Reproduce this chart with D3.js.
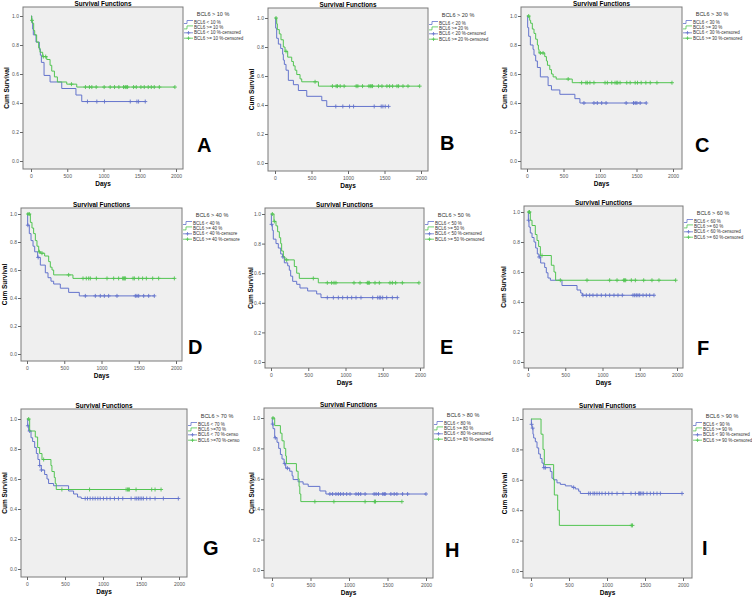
<!DOCTYPE html>
<html><head><meta charset="utf-8">
<script src="https://cdn.jsdelivr.net/npm/d3@7"></script>
<style>body{margin:0;background:#fff} svg{display:block;font-family:"Liberation Sans",Arial,sans-serif}</style>
</head><body><svg id="c" width="752" height="599"></svg>
<script>
const xTicks=[0,500,1000,1500,2000];
const yTicks=[0,0.2,0.4,0.6,0.8,1.0];
const letters=["A","B","C","D","E","F","G","H","I"];
const cutoffs=[10,20,30,40,50,60,70,80,90];
const legendTitles=cutoffs.map(c=>`BCL6 > ${c} %`);
const legendLabels=[
 ["BCL6 < 10 %","BCL6 >= 10 %","BCL6 < 10 %-censored","BCL6 >= 10 %-censored"],
 ["BCL6 < 20 %","BCL6 >= 20 %","BCL6 < 20 %-censored","BCL6 >= 20 %-censored"],
 ["BCL6 < 30 %","BCL6 >= 30 %","BCL6 < 30 %-censored","BCL6 >= 30 %-censored"],
 ["BCL6 < 40 %","BCL6 >= 40 %","BCL6 < 40 %-censore","BCL6 >= 40 %-censore"],
 ["BCL6 < 50 %","BCL6 >= 50 %","BCL6 < 50 %-censored","BCL6 >= 50 %-censored"],
 ["BCL6 < 60 %","BCL6 >= 60 %","BCL6 < 60 %-censored","BCL6 >= 60 %-censored"],
 ["BCL6 < 70 %","BCL6 >=70 %","BCL6 < 70 %-censo","BCL6 >=70 %-censo"],
 ["BCL6 < 80 %","BCL6 >= 80 %","BCL6 < 80 %-censored","BCL6 >= 80 %-censored"],
 ["BCL6 < 90 %","BCL6 >= 90 %","BCL6 < 90 %-censored","BCL6 >= 90 %-censored"]
];

// step data: [time (days), cumulative survival after event]; censored times
const A_low_steps=[[10,0.955],[23,0.91],[32,0.87],[69,0.82],[115,0.77],[129,0.73],[143,0.68],[180,0.59],[263,0.545],[424,0.50],[620,0.455],[700,0.41]];
const A_low_cens=[779,908,1014,1369,1461,1484,1576];
const A_high_steps=[[9,0.97],[18,0.95],[37,0.90],[51,0.87],[78,0.82],[106,0.78],[124,0.75],[161,0.72],[217,0.70],[263,0.66],[286,0.62],[323,0.58],[364,0.545],[493,0.53],[631,0.51]];
const A_high_cens=[14,170,203,558,751,806,839,899,1009,1092,1152,1212,1276,1299,1313,1332,1415,1452,1516,1562,1617,1659,1700,1770,1985];

const B_low_steps=[[9,0.93],[23,0.86],[46,0.82],[78,0.79],[105,0.75],[114,0.71],[128,0.68],[151,0.64],[183,0.57],[252,0.54],[320,0.50],[435,0.46],[641,0.43],[709,0.39]];
const B_low_cens=[833,929,1021,1076,1359,1455,1478,1510,1556];
const B_high_steps=[[23,0.96],[32,0.92],[59,0.89],[82,0.85],[114,0.80],[137,0.77],[174,0.73],[229,0.70],[252,0.67],[275,0.64],[298,0.61],[343,0.58],[366,0.56],[595,0.53]];
const B_high_cens=[14,151,549,787,838,856,893,947,1112,1135,1199,1286,1304,1318,1336,1419,1465,1533,1570,1611,1671,1693,1753,1822,1982];

const C_low_steps=[[9,0.92],[23,0.86],[46,0.80],[83,0.77],[96,0.73],[119,0.69],[142,0.645],[183,0.58],[289,0.52],[335,0.49],[450,0.46],[656,0.43],[725,0.40]];
const C_low_cens=[780,917,963,1023,1083,1358,1459,1482,1505,1550,1633];
const C_high_steps=[[37,0.97],[50,0.95],[73,0.91],[96,0.88],[119,0.84],[142,0.80],[156,0.77],[165,0.745],[243,0.72],[266,0.69],[280,0.66],[312,0.63],[335,0.60],[358,0.58],[400,0.565],[620,0.54]];
const C_high_cens=[23,183,220,564,748,807,826,862,917,1069,1101,1161,1206,1229,1243,1275,1367,1413,1482,1514,1564,1628,1688,1780,1986];

const D_low_steps=[[9,0.92],[31,0.86],[54,0.81],[81,0.77],[103,0.73],[143,0.69],[179,0.635],[246,0.58],[282,0.545],[322,0.52],[358,0.50],[447,0.47],[559,0.44],[702,0.415]];
const D_low_cens=[12,150,783,917,984,1038,1096,1208,1454,1476,1499,1566,1633,1709];
const D_high_steps=[[45,0.94],[67,0.90],[89,0.86],[112,0.81],[134,0.77],[157,0.73],[179,0.72],[237,0.70],[291,0.66],[313,0.62],[336,0.60],[358,0.565],[617,0.54]];
const D_high_cens=[13,31,166,201,559,752,796,828,850,931,1074,1163,1230,1284,1297,1311,1320,1423,1441,1499,1552,1602,1687,1767,1978];

const E_low_steps=[[5,0.93],[18,0.89],[31,0.83],[67,0.80],[98,0.77],[130,0.73],[157,0.71],[179,0.67],[224,0.65],[246,0.62],[264,0.58],[291,0.545],[345,0.525],[389,0.50],[492,0.48],[613,0.46],[671,0.435]];
const E_low_cens=[8,160,756,837,904,962,1025,1083,1141,1208,1365,1432,1454,1472,1499,1553,1629,1696];
const E_high_steps=[[40,0.95],[67,0.92],[89,0.88],[112,0.84],[130,0.80],[143,0.75],[166,0.71],[188,0.69],[313,0.645],[345,0.60],[380,0.565],[635,0.535]];
const E_high_cens=[18,45,210,568,756,814,846,872,1114,1195,1293,1306,1320,1396,1454,1597,1629,1673,1763,1986];

const F_low_steps=[[5,0.945],[13,0.90],[31,0.86],[54,0.83],[81,0.80],[103,0.76],[125,0.72],[148,0.70],[170,0.66],[224,0.63],[246,0.595],[268,0.56],[300,0.545],[456,0.51],[658,0.48],[707,0.46],[729,0.445]];
const F_low_cens=[8,150,738,783,828,872,926,984,1042,1096,1154,1208,1266,1409,1432,1454,1476,1499,1544,1588,1633,1691];
const F_high_steps=[[31,0.945],[54,0.91],[98,0.85],[121,0.81],[143,0.77],[166,0.71],[313,0.645],[349,0.60],[371,0.545]];
const F_high_cens=[13,20,188,434,792,1096,1195,1284,1297,1311,1387,1441,1553,1664,1758,1982];

const G_low_steps=[[9,0.955],[22,0.92],[53,0.875],[74,0.85],[101,0.81],[123,0.77],[144,0.73],[166,0.69],[188,0.66],[232,0.63],[263,0.60],[284,0.57],[350,0.555],[547,0.52],[613,0.50],[665,0.48],[713,0.47]];
const G_low_cens=[12,35,168,190,766,796,831,866,897,932,963,1006,1050,1094,1151,1203,1260,1370,1422,1444,1466,1488,1510,1532,1575,1619,1685,1794,1991];
const G_high_steps=[[35,0.92],[109,0.88],[140,0.81],[166,0.77],[197,0.73],[315,0.69],[328,0.65],[359,0.61],[372,0.57],[385,0.53]];
const G_high_cens=[22,219,459,823,1304,1322,1335,1348,1435,1641,1685,1764];

const H_low_steps=[[4,0.96],[13,0.93],[35,0.87],[65,0.84],[87,0.80],[109,0.76],[130,0.73],[157,0.70],[178,0.67],[230,0.65],[261,0.62],[274,0.595],[339,0.58],[404,0.565],[470,0.55],[622,0.52],[700,0.50]];
const H_low_cens=[10,43,165,200,752,787,830,861,891,926,970,1013,1091,1122,1152,1209,1326,1352,1383,1439,1457,1470,1544,1587,1622,1696,1761,2000];
const H_high_steps=[[35,0.95],[109,0.90],[130,0.85],[157,0.80],[178,0.75],[187,0.70],[317,0.65],[339,0.60],[352,0.55],[361,0.50],[374,0.45]];
const H_high_cens=[13,557,804,1209,1330,1344,1687];

const I_low_steps=[[5,0.965],[13,0.94],[26,0.90],[35,0.875],[57,0.85],[79,0.81],[101,0.77],[123,0.74],[145,0.71],[167,0.68],[254,0.655],[276,0.61],[298,0.60],[342,0.58],[386,0.57],[452,0.56],[539,0.55],[583,0.54],[627,0.525],[649,0.51]];
const I_low_cens=[8,22,170,189,561,759,781,816,838,868,899,934,978,1022,1066,1132,1211,1316,1373,1417,1430,1439,1461,1482,1526,1570,1614,1658,1702,1987];
const I_high_steps=[[132,0.90],[158,0.80],[175,0.70],[298,0.60],[307,0.50],[351,0.40],[373,0.30]];
const I_high_cens=[1320,1335];

const seriesData=[
 [A_low_steps,A_low_cens,A_high_steps,A_high_cens],
 [B_low_steps,B_low_cens,B_high_steps,B_high_cens],
 [C_low_steps,C_low_cens,C_high_steps,C_high_cens],
 [D_low_steps,D_low_cens,D_high_steps,D_high_cens],
 [E_low_steps,E_low_cens,E_high_steps,E_high_cens],
 [F_low_steps,F_low_cens,F_high_steps,F_high_cens],
 [G_low_steps,G_low_cens,G_high_steps,G_high_cens],
 [H_low_steps,H_low_cens,H_high_steps,H_high_cens],
 [I_low_steps,I_low_cens,I_high_steps,I_high_cens]
];

// layout (pixels)
const layout=[
 {l:23,t:7,r:183,b:169,x0:31,x1:176,y1:16,y0:161,lx:197,ly:152,cx:7},
 {l:268,t:8,r:428,b:171,x0:275,x1:421,y1:18,y0:163,lx:440,ly:150,cx:252},
 {l:521,t:7,r:682,b:169,x0:527,x1:673,y1:16,y0:161,lx:695,ly:152,cx:505},
 {l:21,t:208,r:182,b:361,x0:27,x1:176,y1:214,y0:354,lx:188,ly:354,cx:5},
 {l:265,t:208,r:424,b:368,x0:271,x1:420,y1:214,y0:362,lx:440,ly:354,cx:251},
 {l:524,t:206,r:683,b:368,x0:528,x1:677,y1:212,y0:362,lx:697,ly:355,cx:504},
 {l:21,t:409,r:187,b:577,x0:27,x1:179,y1:419,y0:569,lx:203,ly:555,cx:5},
 {l:264,t:408,r:433,b:578,x0:272,x1:426,y1:418,y0:570,lx:445,ly:557,cx:252},
 {l:523,t:409,r:692,b:578,x0:531,x1:683,y1:419,y0:571,lx:702,ly:555,cx:505}
];
const BLUE="#6474cc", GREEN="#52c452";

const svg=d3.select("#c");
function survAt(steps,t){let s=1;for(const [tt,v] of steps){if(tt<=t)s=v;}return s;}

layout.forEach((p,i)=>{
  const g=svg.append("g");
  const x=d3.scaleLinear().domain([0,2000]).range([p.x0,p.x1]);
  const y=d3.scaleLinear().domain([0,1]).range([p.y0,p.y1]);
  g.append("rect").attr("x",p.l).attr("y",p.t).attr("width",p.r-p.l).attr("height",p.b-p.t)
    .attr("fill","#efefef").attr("stroke","#7a7a7a").attr("stroke-width",1);
  const xa=g.append("g").attr("transform",`translate(0,${p.b})`)
    .call(d3.axisBottom(x).tickValues(xTicks).tickSize(3).tickPadding(2).tickFormat(d3.format("d")));
  const ya=g.append("g").attr("transform",`translate(${p.l},0)`)
    .call(d3.axisLeft(y).tickValues(yTicks).tickSize(3).tickPadding(1).tickFormat(d3.format(".1f")));
  [xa,ya].forEach(a=>{a.select(".domain").remove();
    a.selectAll("line").attr("stroke","#666");
    a.selectAll("text").attr("font-size",5).attr("fill","#555").attr("font-family","Liberation Sans, Arial, sans-serif");});

  const [ls,lc,hs,hc]=seriesData[i];
  const line=d3.line().x(d=>x(d[0])).y(d=>y(d[1]));
  [[ls,lc,BLUE],[hs,hc,GREEN]].forEach(([steps,cens,col])=>{
    const pts=[[0,1]];let prev=1;
    steps.forEach(([t,s])=>{pts.push([t,prev]);pts.push([t,s]);prev=s;});
    const tmax=Math.max(d3.max(cens)||0,steps[steps.length-1][0]);
    pts.push([tmax,prev]);
    g.append("path").attr("d",line(pts)).attr("fill","none").attr("stroke",col).attr("stroke-width",1);
    g.append("g").selectAll("path").data(cens).join("path")
      .attr("d",t=>{const cx=x(t),cy=y(survAt(steps,t));return `M${cx-2},${cy}H${cx+2}M${cx},${cy-2}V${cy+2}`;})
      .attr("stroke",col).attr("stroke-width",0.9).attr("fill","none");
  });

  // title
  g.append("text").attr("x",(p.l+p.r)/2).attr("y",p.t-1).attr("text-anchor","middle")
    .attr("font-size",7).attr("font-weight","bold").attr("textLength",57).attr("lengthAdjust","spacingAndGlyphs")
    .text("Survival Functions");
  // axis titles
  g.append("text").attr("x",(p.l+p.r)/2).attr("y",p.b+17).attr("text-anchor","middle")
    .attr("font-size",6.5).attr("font-weight","bold").text("Days");
  g.append("text").attr("transform",`translate(${p.cx+2},${(p.t+p.b)/2}) rotate(-90)`).attr("text-anchor","middle")
    .attr("font-size",6.5).attr("font-weight","bold").text("Cum Survival");
  // legend
  g.append("text").attr("x",p.r+30).attr("y",p.t+9).attr("text-anchor","middle")
    .attr("font-size",5.5).attr("fill","#333").text(legendTitles[i]);
  legendLabels[i].forEach((lab,k)=>{
    const ly=p.t+15+k*5.4, lx=p.r+1, col=(k%2===0)?BLUE:GREEN;
    if(k<2){
      g.append("path").attr("d",`M${lx},${ly+1.5}H${lx+3}V${ly-1.5}H${lx+9}`).attr("fill","none").attr("stroke",col).attr("stroke-width",0.8);
    }else{
      g.append("path").attr("d",`M${lx},${ly}H${lx+9}M${lx+4.5-1.8},${ly}H${lx+4.5+1.8}M${lx+4.5},${ly-1.8}V${ly+1.8}`).attr("fill","none").attr("stroke",col).attr("stroke-width",0.8);
    }
    g.append("text").attr("x",lx+10).attr("y",ly+1.6).attr("font-size",4.5).attr("fill","#333").text(lab);
  });
  // panel letter
  g.append("text").attr("x",p.lx).attr("y",p.ly).attr("font-size",20).attr("font-weight","bold").text(letters[i]);
});
</script></body></html>
